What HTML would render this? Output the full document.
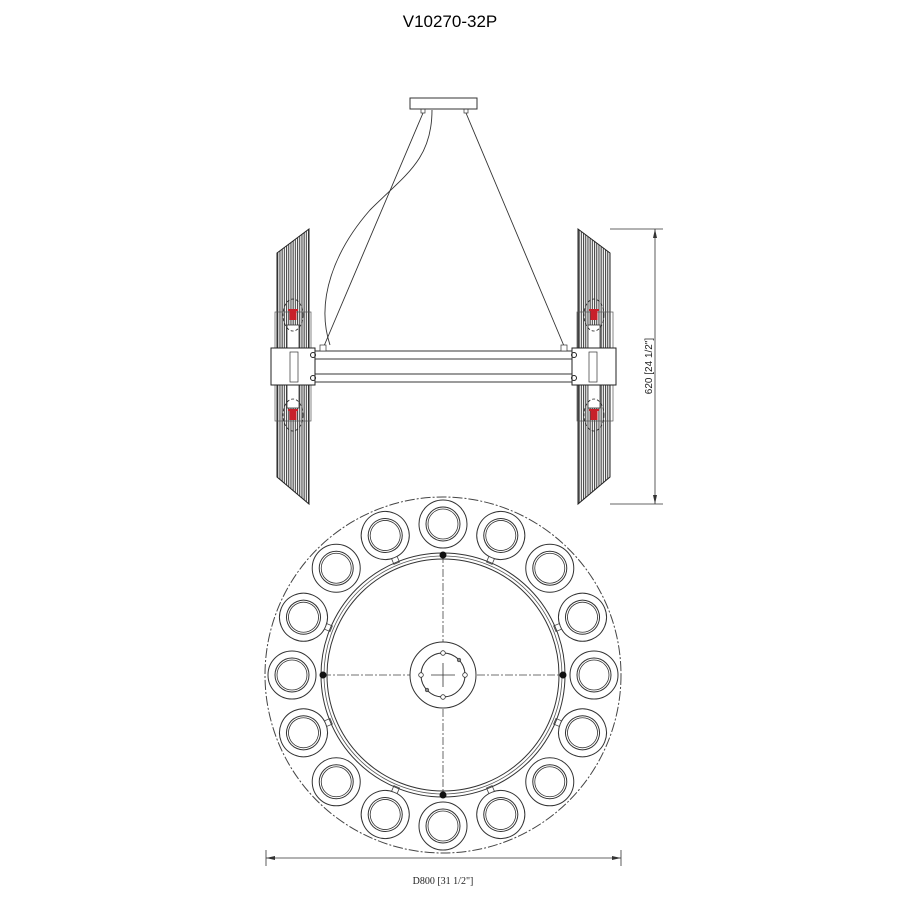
<!DOCTYPE html>
<html><head><style>html,body{margin:0;padding:0;background:#fff}svg{display:block}</style></head>
<body>
<svg width="900" height="900" viewBox="0 0 900 900" xmlns="http://www.w3.org/2000/svg">
<defs>
<pattern id="fins" width="2.2" height="10" patternUnits="userSpaceOnUse">
<rect width="2.2" height="10" fill="#fff"/><rect width="1.1" height="10" fill="#444"/>
</pattern>
<g id="lampc">
<circle r="24" fill="#fff" stroke="#333" stroke-width="1"/>
<circle r="17" fill="none" stroke="#333" stroke-width="1"/>
<circle r="15" fill="none" stroke="#333" stroke-width="0.8"/>
</g>
<g id="tab"><rect x="-3" y="-3" width="6" height="6" fill="#fff" stroke="#444" stroke-width="0.8"/></g>
<g id="lampL">
<ellipse cx="0" cy="0" rx="10" ry="16" fill="none" stroke="#222" stroke-dasharray="3,2" stroke-width="0.8"/>
<rect x="-3.5" y="-4" width="7" height="9" fill="#c8202a"/>
<rect x="-5" y="-6" width="10" height="2" fill="#c8202a"/>
</g>
</defs>

<text x="450" y="27" font-family="Liberation Sans, sans-serif" font-size="17" text-anchor="middle" fill="#000">V10270-32P</text>

<!-- canopy and wires -->
<rect x="410" y="98" width="67" height="11" fill="#fff" stroke="#333" stroke-width="1"/>
<rect x="421" y="109" width="4" height="4" fill="none" stroke="#333" stroke-width="0.7"/>
<rect x="464" y="109" width="4" height="4" fill="none" stroke="#333" stroke-width="0.7"/>
<line x1="423" y1="113" x2="324" y2="346" stroke="#333" stroke-width="0.9"/>
<line x1="466" y1="113" x2="564" y2="346" stroke="#333" stroke-width="0.9"/>
<path d="M432,110 C432,160 405,175 370,210 C335,250 315,300 330,345" fill="none" stroke="#333" stroke-width="0.9"/>

<!-- left fin bar -->
<polygon points="277,253 309,229 309,504 277,477" fill="url(#fins)" stroke="#222" stroke-width="1"/>
<rect x="275" y="312" width="36" height="36" fill="none" stroke="#555" stroke-width="0.7"/>
<rect x="275" y="385" width="36" height="36" fill="none" stroke="#555" stroke-width="0.7"/>
<rect x="287" y="325" width="12" height="24" fill="#fff" stroke="#333" stroke-width="0.8"/>
<rect x="287" y="384" width="12" height="24" fill="#fff" stroke="#333" stroke-width="0.8"/>
<use href="#lampL" x="293" y="315"/>
<use href="#lampL" x="293" y="415"/>
<!-- right fin bar -->
<polygon points="578,229 610,253 610,477 578,504" fill="url(#fins)" stroke="#222" stroke-width="1"/>
<rect x="577" y="312" width="36" height="36" fill="none" stroke="#555" stroke-width="0.7"/>
<rect x="577" y="385" width="36" height="36" fill="none" stroke="#555" stroke-width="0.7"/>
<rect x="588" y="325" width="12" height="24" fill="#fff" stroke="#333" stroke-width="0.8"/>
<rect x="588" y="384" width="12" height="24" fill="#fff" stroke="#333" stroke-width="0.8"/>
<use href="#lampL" x="594" y="315"/>
<use href="#lampL" x="594" y="415"/>

<!-- crossbar -->
<rect x="271" y="348" width="44" height="37" fill="#fff" stroke="#222" stroke-width="1"/>
<rect x="572" y="348" width="44" height="37" fill="#fff" stroke="#222" stroke-width="1"/>
<rect x="315" y="351" width="257" height="8" fill="#fff" stroke="#222" stroke-width="0.9"/>
<rect x="315" y="374" width="257" height="8" fill="#fff" stroke="#222" stroke-width="0.9"/>
<rect x="320" y="345" width="6" height="6" fill="#fff" stroke="#333" stroke-width="0.7"/>
<rect x="561" y="345" width="6" height="6" fill="#fff" stroke="#333" stroke-width="0.7"/>
<rect x="290" y="352" width="8" height="30" fill="#fff" stroke="#333" stroke-width="0.7"/>
<rect x="589" y="352" width="8" height="30" fill="#fff" stroke="#333" stroke-width="0.7"/>
<circle cx="313" cy="355" r="2.5" fill="none" stroke="#222"/><circle cx="313" cy="378" r="2.5" fill="none" stroke="#222"/>
<circle cx="574" cy="355" r="2.5" fill="none" stroke="#222"/><circle cx="574" cy="378" r="2.5" fill="none" stroke="#222"/>

<!-- height dimension -->
<line x1="610" y1="229" x2="663" y2="229" stroke="#333" stroke-width="0.8"/>
<line x1="610" y1="504" x2="663" y2="504" stroke="#333" stroke-width="0.8"/>
<line x1="655" y1="229" x2="655" y2="504" stroke="#333" stroke-width="0.8"/>
<polygon points="655,229 653,238 657,238" fill="#333"/>
<polygon points="655,504 653,495 657,495" fill="#333"/>
<text transform="translate(652,366) rotate(-90)" font-family="Liberation Sans Narrow, Liberation Sans, sans-serif" font-size="10" text-anchor="middle" fill="#222">620 [24 1/2"]</text>

<!-- plan view -->
<circle cx="443" cy="675" r="178" fill="none" stroke="#444" stroke-width="1" stroke-dasharray="10,2,2,2"/>
<g transform="translate(443,675)">
<use href="#lampc" transform="rotate(0) translate(0,-151)"/>
<use href="#lampc" transform="rotate(22.5) translate(0,-151)"/>
<use href="#lampc" transform="rotate(45) translate(0,-151)"/>
<use href="#lampc" transform="rotate(67.5) translate(0,-151)"/>
<use href="#lampc" transform="rotate(90) translate(0,-151)"/>
<use href="#lampc" transform="rotate(112.5) translate(0,-151)"/>
<use href="#lampc" transform="rotate(135) translate(0,-151)"/>
<use href="#lampc" transform="rotate(157.5) translate(0,-151)"/>
<use href="#lampc" transform="rotate(180) translate(0,-151)"/>
<use href="#lampc" transform="rotate(202.5) translate(0,-151)"/>
<use href="#lampc" transform="rotate(225) translate(0,-151)"/>
<use href="#lampc" transform="rotate(247.5) translate(0,-151)"/>
<use href="#lampc" transform="rotate(270) translate(0,-151)"/>
<use href="#lampc" transform="rotate(292.5) translate(0,-151)"/>
<use href="#lampc" transform="rotate(315) translate(0,-151)"/>
<use href="#lampc" transform="rotate(337.5) translate(0,-151)"/>
<use href="#tab" transform="rotate(22.5) translate(0,-124)"/>
<use href="#tab" transform="rotate(67.5) translate(0,-124)"/>
<use href="#tab" transform="rotate(112.5) translate(0,-124)"/>
<use href="#tab" transform="rotate(157.5) translate(0,-124)"/>
<use href="#tab" transform="rotate(202.5) translate(0,-124)"/>
<use href="#tab" transform="rotate(247.5) translate(0,-124)"/>
<use href="#tab" transform="rotate(292.5) translate(0,-124)"/>
<use href="#tab" transform="rotate(337.5) translate(0,-124)"/>
<circle r="122" fill="none" stroke="#333" stroke-width="1"/>
<circle r="119" fill="none" stroke="#555" stroke-width="0.8"/>
<circle r="116" fill="none" stroke="#333" stroke-width="1"/>
<line x1="-120" y1="0" x2="120" y2="0" stroke="#444" stroke-width="0.8" stroke-dasharray="8,2,2,2"/>
<line x1="0" y1="-120" x2="0" y2="120" stroke="#444" stroke-width="0.8" stroke-dasharray="8,2,2,2"/>
<circle r="33" fill="#fff" stroke="#333" stroke-width="1"/>
<circle r="22" fill="none" stroke="#333" stroke-width="1"/>
<line x1="-12" y1="0" x2="12" y2="0" stroke="#333" stroke-width="0.8"/>
<line x1="0" y1="-12" x2="0" y2="12" stroke="#333" stroke-width="0.8"/>
<circle cx="0" cy="-22" r="2.3" fill="#fff" stroke="#333" stroke-width="0.8"/>
<circle cx="0" cy="22" r="2.3" fill="#fff" stroke="#333" stroke-width="0.8"/>
<circle cx="-22" cy="0" r="2.3" fill="#fff" stroke="#333" stroke-width="0.8"/>
<circle cx="22" cy="0" r="2.3" fill="#fff" stroke="#333" stroke-width="0.8"/>
<circle cx="16" cy="-15" r="1.8" fill="#888" stroke="#333" stroke-width="0.6"/>
<circle cx="-16" cy="15" r="1.8" fill="#888" stroke="#333" stroke-width="0.6"/>
<circle cx="0" cy="-120" r="3.5" fill="#111"/>
<circle cx="0" cy="120" r="3.5" fill="#111"/>
<circle cx="-120" cy="0" r="3.5" fill="#111"/>
<circle cx="120" cy="0" r="3.5" fill="#111"/>
</g>

<!-- width dimension -->
<line x1="266" y1="850" x2="266" y2="866" stroke="#333" stroke-width="0.8"/>
<line x1="621" y1="850" x2="621" y2="866" stroke="#333" stroke-width="0.8"/>
<line x1="266" y1="858" x2="621" y2="858" stroke="#333" stroke-width="0.8"/>
<polygon points="266,858 275,856 275,860" fill="#333"/>
<polygon points="621,858 612,856 612,860" fill="#333"/>
<text x="443" y="884" font-family="Liberation Serif, serif" font-size="10" text-anchor="middle" fill="#222">D800 [31 1/2"]</text>
</svg>
</body></html>
